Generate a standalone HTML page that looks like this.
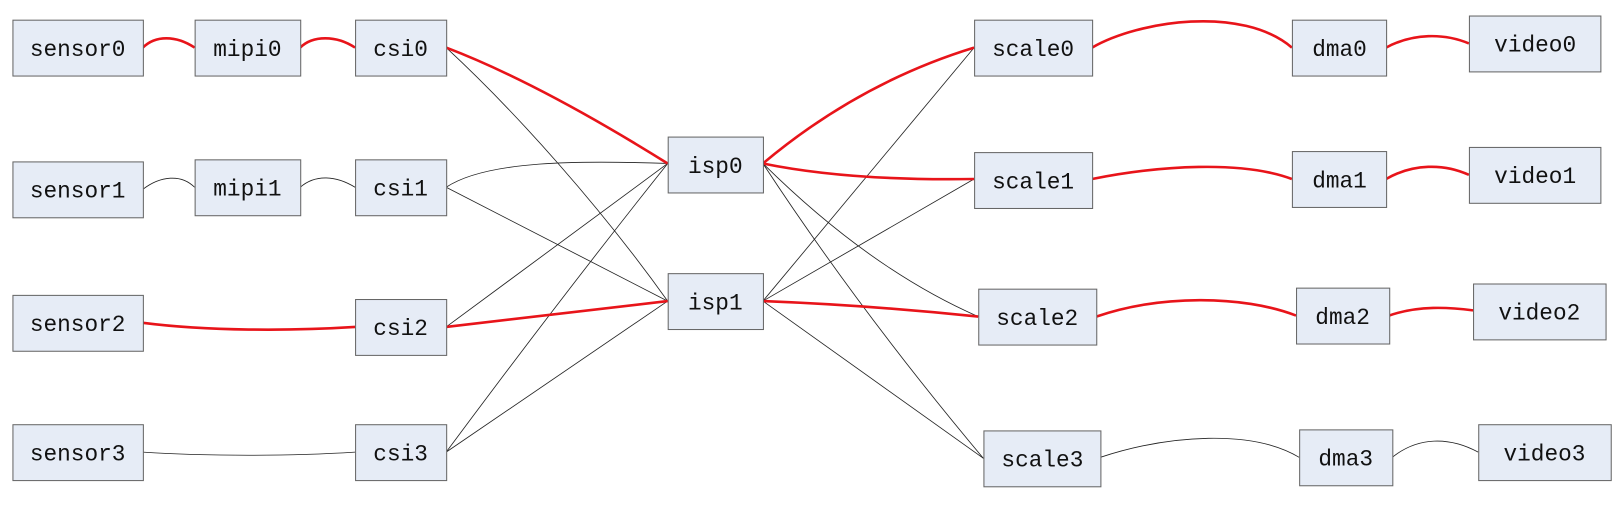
<!DOCTYPE html>
<html><head><meta charset="utf-8"><style>
html,body{margin:0;padding:0;background:#fff;width:1619px;height:508px;overflow:hidden}
svg{display:block}
text{font-family:"Liberation Mono",monospace;font-size:22px;fill:#111}
</style></head><body>
<svg width="1619" height="508" viewBox="0 0 1564 491" preserveAspectRatio="none">
<g fill="none" stroke="#222" stroke-width="0.8">
<path d="M138,183 C155,170 175,168 188,181"/>
<path d="M290,181 C305,168 325,170 343,181"/>
<path d="M431,181 C470,155 560,155 645,158"/>
<path d="M431,181 L645,291"/>
<path d="M431,46 C500,110 580,200 645,291"/>
<path d="M431,316 L645,158"/>
<path d="M138,437 C200,441 280,441 343,437"/>
<path d="M431,437 Q540,290 645,158"/>
<path d="M431,437 L645,291"/>
<path d="M737,158 Q840,260 945,306"/>
<path d="M737,158 Q830,300 950,443"/>
<path d="M737,291 L941,46"/>
<path d="M737,291 L941,173"/>
<path d="M737,291 L950,443"/>
<path d="M1063,442 C1130,420 1210,415 1255,442"/>
<path d="M1345,442 C1370,422 1400,422 1428,437"/>
</g>
<g fill="none" stroke="#e8141a" stroke-width="2.5">
<path d="M138,46 C150,34 170,34 188,46"/>
<path d="M290,46 C302,34 325,34 343,46"/>
<path d="M431,46 Q520,80 645,158"/>
<path d="M138,312 C200,320 280,320 343,316"/>
<path d="M431,316 L645,291"/>
<path d="M737,158 Q830,80 941,46"/>
<path d="M737,158 Q820,175 941,173"/>
<path d="M737,291 Q840,295 945,306"/>
<path d="M1055,46 C1100,20 1200,5 1248,46"/>
<path d="M1055,173 C1120,160 1200,155 1248,173"/>
<path d="M1059,306 C1120,285 1200,285 1252,305"/>
<path d="M1339,46 C1365,32 1395,32 1419,42"/>
<path d="M1339,173 C1365,158 1395,158 1419,169"/>
<path d="M1342,305 C1370,295 1400,297 1423,300"/>
</g>
<g fill="#e6ecf6" stroke="#666" stroke-width="1">
<rect x="12.5" y="19.5" width="126" height="54"/>
<rect x="188.5" y="19.5" width="102" height="54"/>
<rect x="343.5" y="19.5" width="88" height="54"/>
<rect x="12.5" y="156.5" width="126" height="54"/>
<rect x="188.5" y="154.5" width="102" height="54"/>
<rect x="343.5" y="154.5" width="88" height="54"/>
<rect x="12.5" y="285.5" width="126" height="54"/>
<rect x="343.5" y="289.5" width="88" height="54"/>
<rect x="12.5" y="410.5" width="126" height="54"/>
<rect x="343.5" y="410.5" width="88" height="54"/>
<rect x="645.5" y="132.5" width="92" height="54"/>
<rect x="645.5" y="264.5" width="92" height="54"/>
<rect x="941.5" y="19.5" width="114" height="54"/>
<rect x="941.5" y="147.5" width="114" height="54"/>
<rect x="945.5" y="279.5" width="114" height="54"/>
<rect x="950.5" y="416.5" width="113" height="54"/>
<rect x="1248.5" y="19.5" width="91" height="54"/>
<rect x="1248.5" y="146.5" width="91" height="54"/>
<rect x="1252.5" y="278.5" width="90" height="54"/>
<rect x="1255.5" y="415.5" width="90" height="54"/>
<rect x="1419.5" y="15.5" width="127" height="54"/>
<rect x="1419.5" y="142.5" width="127" height="54"/>
<rect x="1423.5" y="274.5" width="128" height="54"/>
<rect x="1428.5" y="410.5" width="128" height="54"/>
</g>
<g text-anchor="middle">
<text x="75" y="54">sensor0</text>
<text x="239" y="54">mipi0</text>
<text x="387" y="54">csi0</text>
<text x="75" y="191">sensor1</text>
<text x="239" y="189">mipi1</text>
<text x="387" y="189">csi1</text>
<text x="75" y="320">sensor2</text>
<text x="387" y="324">csi2</text>
<text x="75" y="445">sensor3</text>
<text x="387" y="445">csi3</text>
<text x="691" y="167">isp0</text>
<text x="691" y="299">isp1</text>
<text x="998" y="54">scale0</text>
<text x="998" y="182">scale1</text>
<text x="1002" y="314">scale2</text>
<text x="1007" y="451">scale3</text>
<text x="1294" y="54">dma0</text>
<text x="1294" y="181">dma1</text>
<text x="1297" y="313">dma2</text>
<text x="1300" y="450">dma3</text>
<text x="1483" y="50">video0</text>
<text x="1483" y="177">video1</text>
<text x="1487" y="309">video2</text>
<text x="1492" y="445">video3</text>
</g>
</svg>
</body></html>
